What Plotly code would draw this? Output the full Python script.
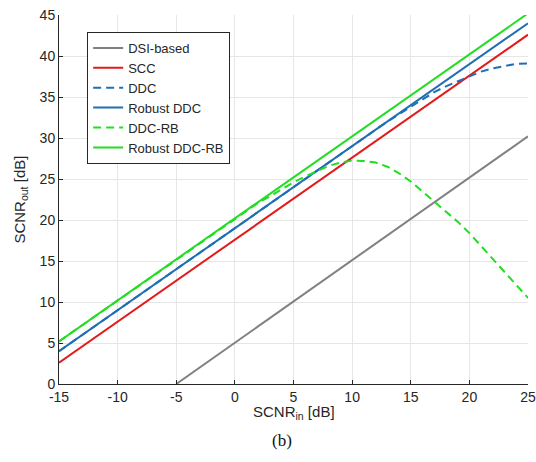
import plotly.graph_objects as go

x_in = list(range(-15, 26))

dsi_x = [-5, 25]
dsi_y = [0.0, 30.2]

scc_y = [xv + 17.6 for xv in x_in]
robust_ddc_y = [xv + 19.0 for xv in x_in]
robust_ddcrb_y = [xv + 20.2 for xv in x_in]

ddc_y = [4.0, 5.0, 6.0, 7.0, 8.0, 9.0, 10.0, 11.0, 12.0, 13.0, 14.0, 15.0, 16.0, 17.0, 18.0,
         19.0, 20.0, 21.0, 22.0, 23.0, 24.0, 25.0, 26.0, 27.0, 28.0, 29.0, 30.0, 31.0,
         32.0, 32.9, 33.8, 34.7, 35.6, 36.3, 36.9, 37.5, 38.1, 38.5, 38.8, 39.05, 39.1]

ddcrb_y = [5.2, 6.2, 7.2, 8.2, 9.2, 10.2, 11.2, 12.2, 13.2, 14.2, 15.2, 16.2, 17.2, 18.2, 19.2,
           20.2, 21.1, 22.1, 22.9, 23.8, 24.6, 25.3, 26.0, 26.6, 27.0, 27.25, 27.2, 27.0,
           26.5, 25.7, 24.7, 23.5, 22.3, 21.0, 19.8, 18.4, 16.8, 15.2, 13.7, 12.1, 10.5]

x_ticks = [-15, -10, -5, 0, 5, 10, 15, 20, 25]
x_ticktext = ["-15", "-10", "-5", "0", "5", "10", "15", "20", "25"]
y_ticks = [0, 5, 10, 15, 20, 25, 30, 35, 40, 45]

GRAY = "#808080"
RED = "#e31a1c"
BLUE = "#1f6fb4"
GREEN = "#22dd22"
W = 2
FONT = "Liberation Sans, Arial"
TXT = "#262626"

fig = go.Figure()
fig.add_trace(go.Scatter(x=dsi_x, y=dsi_y, mode="lines", name="DSI-based",
                         line=dict(color=GRAY, width=W)))
fig.add_trace(go.Scatter(x=x_in, y=scc_y, mode="lines", name="SCC",
                         line=dict(color=RED, width=W)))
fig.add_trace(go.Scatter(x=x_in, y=ddc_y, mode="lines", name="DDC",
                         line=dict(color=BLUE, width=W, dash="8px,5px")))
fig.add_trace(go.Scatter(x=x_in, y=robust_ddc_y, mode="lines", name="Robust DDC",
                         line=dict(color=BLUE, width=W)))
fig.add_trace(go.Scatter(x=x_in, y=ddcrb_y, mode="lines", name="DDC-RB",
                         line=dict(color=GREEN, width=W, dash="8px,5px")))
fig.add_trace(go.Scatter(x=x_in, y=robust_ddcrb_y, mode="lines", name="Robust DDC-RB",
                         line=dict(color=GREEN, width=W)))

axis_common = dict(
    showgrid=True, gridcolor="#e6e6e6", gridwidth=1,
    showline=True, linecolor=TXT, linewidth=1,
    ticks="inside", ticklen=4, tickcolor=TXT,
    tickfont=dict(family=FONT, size=14, color=TXT),
    ticklabeloverflow="allow", automargin=False,
    zeroline=False, mirror=False,
)

fig.update_layout(
    width=536, height=462,
    margin=dict(l=59, r=8, t=15, b=78),
    paper_bgcolor="white", plot_bgcolor="white",
    showlegend=True,
    legend=dict(x=0.06, y=0.954, xanchor="left", yanchor="top",
                bgcolor="white", bordercolor=TXT, borderwidth=1,
                font=dict(family=FONT, size=13, color=TXT),
                tracegroupgap=0),
    xaxis=dict(range=[-15, 25], tickvals=x_ticks, ticktext=x_ticktext, **axis_common),
    yaxis=dict(range=[0, 45], tickvals=y_ticks, **axis_common),
)

fig.add_annotation(text="SCNR<sub>in</sub> [dB]", xref="paper", yref="paper",
                   x=0.5, y=-0.078, xanchor="center", yanchor="middle", showarrow=False,
                   font=dict(family=FONT, size=15, color=TXT))
fig.add_annotation(text="SCNR<sub>out</sub> [dB]", xref="paper", yref="paper",
                   x=-0.083, y=0.5, xanchor="center", yanchor="middle", showarrow=False,
                   textangle=-90,
                   font=dict(family=FONT, size=15, color=TXT))
fig.add_annotation(text="(b)", xref="paper", yref="paper",
                   x=0.475, y=-0.152, xanchor="center", yanchor="middle", showarrow=False,
                   font=dict(family="Liberation Serif, Times New Roman", size=17, color="#111111"))

fig.write_html("out.html",
               config={"displayModeBar": False},
               post_script="document.body.style.margin='0';document.body.style.overflow='hidden';")
